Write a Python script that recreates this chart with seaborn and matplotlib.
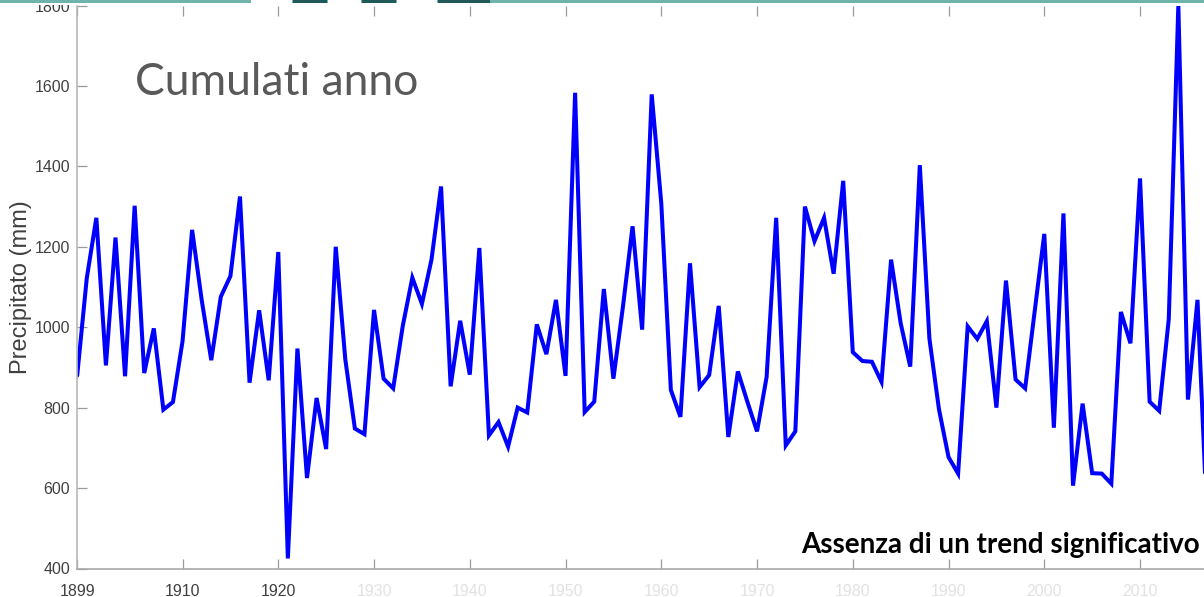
import matplotlib
matplotlib.use('Agg')
import matplotlib.pyplot as plt
from matplotlib.patches import Rectangle
import numpy as np
import pandas as pd
import seaborn as sns

# annual cumulated precipitation (mm)
years = list(range(1899, 2018))
precip = [880, 1122, 1272, 905, 1223, 878, 1302, 886, 997, 795,
          814, 965, 1242, 1068, 918, 1076, 1127, 1325, 862, 1042,
          868, 1187, 425, 947, 625, 824, 697, 1200, 920, 748,
          734, 1043, 872, 848, 1003, 1123, 1058, 1168, 1350, 853,
          1016, 882, 1197, 731, 764, 703, 800, 788, 1007, 933,
          1068, 879, 1583, 789, 815, 1095, 872, 1052, 1251, 994,
          1579, 1308, 844, 777, 1159, 851, 881, 1053, 727, 890,
          814, 741, 876, 1272, 706, 741, 1300, 1214, 1272, 1133,
          1364, 938, 916, 914, 864, 1168, 1010, 902, 1403, 972,
          796, 677, 636, 1002, 971, 1015, 800, 1116, 870, 848,
          1040, 1232, 750, 1283, 606, 810, 637, 636, 611, 1038,
          960, 1370, 815, 792, 1020, 1800, 820, 1068, 520]

x_ticks = [1899, 1910, 1920, 1930, 1940, 1950, 1960, 1970, 1980, 1990, 2000, 2010]
y_ticks = [400, 600, 800, 1000, 1200, 1400, 1600, 1800]

title_text = 'Cumulati anno'
note_text = 'Assenza di un trend significativo'
y_label = 'Precipitato (mm)'

df = pd.DataFrame({'anno': years, 'precipitato': precip})

sns.set_style('white')
plt.rcParams['font.family'] = ['Liberation Sans', 'DejaVu Sans']

fig = plt.figure(figsize=(12.04, 5.97), dpi=100)
ax = fig.add_axes([77.2 / 1204, 28.5 / 597, 1 - 77.2 / 1204, 563 / 597])

sns.lineplot(data=df, x='anno', y='precipitato', ax=ax, color='#0000ff',
             linewidth=2.9, solid_joinstyle='miter')

ax.set_xlim(1899, 2016.68)
ax.set_ylim(400, 1800)
ax.set_xticks(x_ticks)
ax.set_yticks(y_ticks)
ax.set_xticklabels([str(t) for t in x_ticks])
ax.set_yticklabels([str(t) for t in y_ticks])

for side in ['top', 'right']:
    ax.spines[side].set_visible(False)
ax.spines['left'].set_color('#b8b8b8')
ax.spines['bottom'].set_color('#a8a8a8')
ax.spines['left'].set_linewidth(1.2)
ax.spines['bottom'].set_linewidth(1.2)

ax.tick_params(axis='x', direction='in', length=7, width=0.9, color='#9a9a9a',
               top=True, bottom=True, labelsize=11.5, labelcolor='#404040', pad=11)
ax.tick_params(axis='y', direction='in', length=7, width=0.9, color='#9a9a9a',
               left=True, labelsize=11.5, labelcolor='#404040', pad=5)
for lbl in ax.get_xticklabels()[3:]:
    lbl.set_color('#e2e2e2')

ax.set_xlabel('')
ax.set_ylabel(y_label, fontsize=17, color='#404040', labelpad=2)

fig.text(135 / 1204, 1 - 95 / 597, title_text,
         fontsize=32, color='#595959', family=['Lato', 'DejaVu Sans'], va='baseline', ha='left')
fig.text(1200 / 1204, 1 - 553 / 597, note_text,
         fontsize=20, color='black', fontweight='bold', family=['Lato', 'DejaVu Sans'],
         va='baseline', ha='right')

# slide header strip across the top
fig.add_artist(Rectangle((0, 1 - 4.5 / 597), 1, 4.5 / 597, transform=fig.transFigure,
                         color='white', lw=0))
fig.add_artist(Rectangle((0, 1 - 2.5 / 597), 1, 2.5 / 597, transform=fig.transFigure,
                         color='#6fb3a9', lw=0))
for x0, x1 in [(293, 327), (362, 396), (438, 490)]:
    fig.add_artist(Rectangle((x0 / 1204, 1 - 2.5 / 597), (x1 - x0) / 1204, 2.5 / 597,
                             transform=fig.transFigure, color='#1f5a58', lw=0))
for x0, x1 in [(251, 292), (328, 361), (397, 437)]:
    fig.add_artist(Rectangle((x0 / 1204, 1 - 2.5 / 597), (x1 - x0) / 1204, 2.5 / 597,
                             transform=fig.transFigure, color='white', lw=0))

fig.savefig('out.png', dpi=100)
